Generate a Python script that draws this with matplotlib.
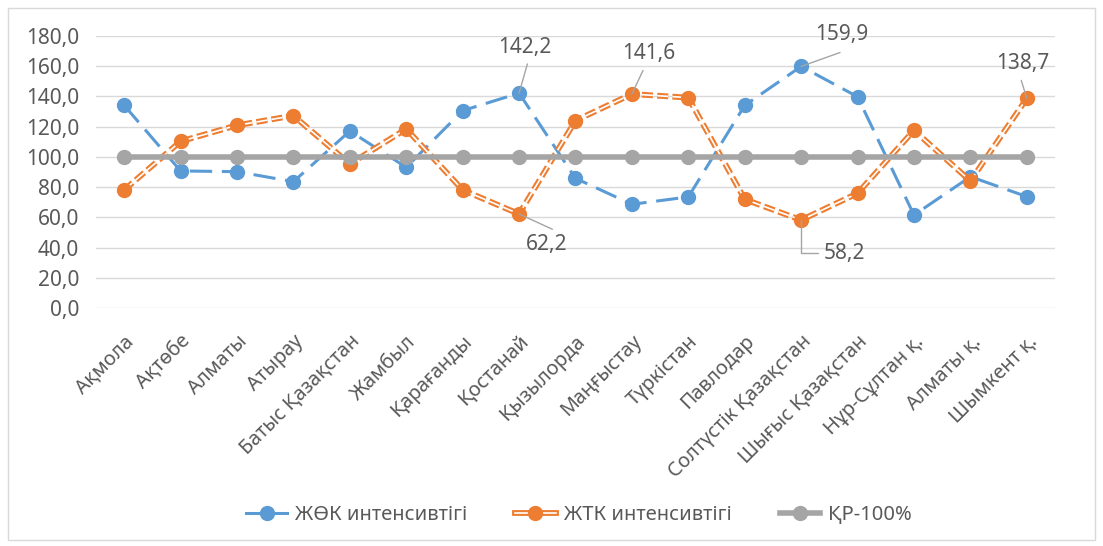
import matplotlib.pyplot as plt
from matplotlib.lines import Line2D
from matplotlib.patches import Rectangle

plt.rcParams['font.family'] = ['Noto Sans', 'DejaVu Sans']
plt.rcParams['lines.scale_dashes'] = False

regions = ['Ақмола', 'Ақтөбе', 'Алматы', 'Атырау', 'Батыс Қазақстан', 'Жамбыл',
           'Қарағанды', 'Қостанай', 'Қызылорда', 'Маңғыстау', 'Түркістан', 'Павлодар',
           'Солтүстік Қазақстан', 'Шығыс Қазақстан', 'Нұр-Сұлтан қ.', 'Алматы қ.',
           'Шымкент қ.']
jok = [134.1, 90.7, 90.2, 83.6, 117.1, 93.1, 130.6, 142.2, 85.8, 68.6, 73.5,
       134.1, 159.9, 139.8, 61.5, 86.9, 73.7]
jtk = [78.1, 110.3, 120.9, 127.3, 95.3, 118.5, 78.1, 62.2, 124.0, 141.6, 139.2,
       71.9, 58.2, 75.9, 117.6, 84.0, 138.7]
kr = [100.0] * len(regions)

blue = '#5B9BD5'
orange = '#ED7D31'
gray = '#A5A5A5'
text_c = '#595959'

fig = plt.figure(figsize=(11.03, 5.46), dpi=100)
ax = fig.add_axes([0.087, 0.436, 0.8695, 0.498])
fig.add_artist(Rectangle((0.007, 0.011), 0.986, 0.974, transform=fig.transFigure,
                         fill=False, edgecolor='#D9D9D9', lw=1))

x = list(range(len(regions)))

ax.plot(x, jok, color=blue, lw=2.2, dashes=(16, 7), marker='o', ms=10,
        mfc=blue, mec=blue, clip_on=False, zorder=3)
ax.plot(x, jtk, color=orange, lw=4.2, dashes=(8, 3), clip_on=False, zorder=4)
ax.plot(x, jtk, color='white', lw=1.2, dashes=(8, 3), clip_on=False, zorder=4.1)
ax.plot(x, jtk, color=orange, lw=0, marker='o', ms=10, mfc=orange, mec=orange,
        clip_on=False, zorder=4.2)
ax.plot(x, kr, color=gray, lw=4, marker='o', ms=10, mfc=gray, mec=gray,
        clip_on=False, zorder=5)

ax.set_xlim(-0.5, len(regions) - 0.5)
ax.set_ylim(0, 180)
ax.set_yticks(range(0, 181, 20))
ax.set_yticklabels([f'{v:.1f}'.replace('.', ',') for v in range(0, 181, 20)])
ax.set_xticks(x)
ax.set_xticklabels(regions, rotation=45, ha='right', va='top', rotation_mode='anchor')
ax.tick_params(axis='both', length=0, colors=text_c, labelsize=15)
ax.tick_params(axis='x', pad=17, labelsize=14.3)
ax.tick_params(axis='y', pad=12)
ax.grid(axis='y', color='#D9D9D9', lw=1)
ax.set_axisbelow(True)
for s in ax.spines.values():
    s.set_visible(False)


def lab(i, vals, dx, dy, lx, ly, elbow=False):
    v = vals[i]
    t = f'{v:.1f}'.replace('.', ',')
    ax.annotate(t, (i, v), xytext=(dx, dy), textcoords='offset points',
                ha='center', va='center', fontsize=15, color=text_c, zorder=6)
    if elbow:
        ax.annotate('', (i, v), xytext=(lx, ly), textcoords='offset points',
                    arrowprops=dict(arrowstyle='-', color=gray, lw=1,
                                    connectionstyle='angle,angleA=0,angleB=90,rad=0',
                                    shrinkA=0, shrinkB=0), zorder=6)
    else:
        ax.annotate('', (i, v), xytext=(lx, ly), textcoords='offset points',
                    arrowprops=dict(arrowstyle='-', color=gray, lw=1,
                                    shrinkA=0, shrinkB=0), zorder=6)


lab(7, jok, 4, 33, 6, 21)
lab(7, jtk, 20, -22, 24, -11)
lab(9, jtk, 12, 29, 8, 17)
lab(12, jok, 29, 23, 28, 10)
lab(12, jtk, 31, -24, 12, -24, elbow=True)
lab(16, jtk, -3, 25, -4, 13)

handles = [
    Line2D([], [], color=blue, lw=2.2, marker='o', ms=10),
    (Line2D([], [], color=orange, lw=4.2),
     Line2D([], [], color='white', lw=1.2),
     Line2D([], [], color=orange, lw=0, marker='o', ms=10)),
    Line2D([], [], color=gray, lw=4, marker='o', ms=10),
]
names = ['ЖӨК интенсивтігі', 'ЖТК интенсивтігі', 'ҚР-100%']
leg = fig.legend(handles, names, loc='center', bbox_to_anchor=(0.525, 0.057), ncol=3,
                 frameon=False, fontsize=14.5, handlelength=2.0, columnspacing=2.4,
                 handletextpad=0.4)
for t in leg.get_texts():
    t.set_color(text_c)

fig.savefig('out.png', dpi=100)
